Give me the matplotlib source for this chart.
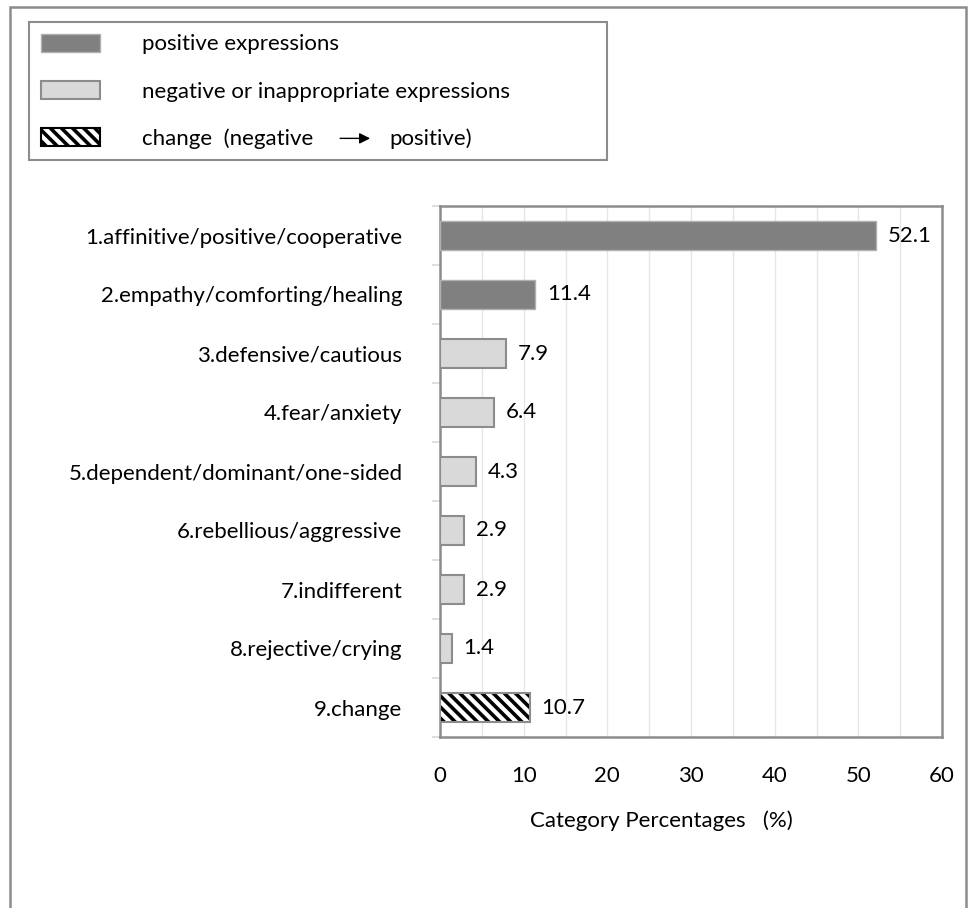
import numpy as np
import matplotlib
matplotlib.use('Agg')
import matplotlib.pyplot as plt
from matplotlib.patches import Rectangle, Patch, FancyArrowPatch

plt.rcParams['font.family'] = ['Lato', 'DejaVu Sans']
plt.rcParams['hatch.linewidth'] = 2.6

# data
categories = ['1.affinitive/positive/cooperative', '2.empathy/comforting/healing',
              '3.defensive/cautious', '4.fear/anxiety', '5.dependent/dominant/one-sided',
              '6.rebellious/aggressive', '7.indifferent', '8.rejective/crying', '9.change']
values = [52.1, 11.4, 7.9, 6.4, 4.3, 2.9, 2.9, 1.4, 10.7]
kinds = ['pos', 'pos', 'neg', 'neg', 'neg', 'neg', 'neg', 'neg', 'chg']
xticks = [0, 10, 20, 30, 40, 50, 60]

FS = 16
W, H = 968, 908

fig = plt.figure(figsize=(W / 100, H / 100), dpi=100)
ax = fig.add_axes([440 / W, 1 - 737 / H, 502 / W, 531 / H])

y = np.arange(len(categories))
for yi, v, k in zip(y, values, kinds):
    if k == 'pos':
        ax.barh(yi, v, height=0.5, color='#808080', edgecolor='#b0b0b0', linewidth=1, zorder=3)
    elif k == 'neg':
        ax.barh(yi, v, height=0.5, color='#d9d9d9', edgecolor='#8c8c8c', linewidth=1.5, zorder=3)
    else:
        ax.barh(yi, v, height=0.5, color='white', edgecolor='black', hatch='\\\\\\', linewidth=0, zorder=3)
        ax.barh(yi, v, height=0.5, color='none', edgecolor='#8c8c8c', linewidth=1.5, zorder=4)
    ax.text(v + 1.4, yi, f'{v:.1f}', va='center', ha='left', fontsize=FS)

ax.set_xlim(0, 60)
ax.set_ylim(len(categories) - 0.5, -0.5)
ax.set_xticks(xticks)
ax.set_xticks(np.arange(0, 61, 5), minor=True)
ax.grid(axis='x', which='both', color='#e6e6e6', linewidth=1, zorder=0)
ax.tick_params(axis='x', which='both', length=0, labelsize=FS, pad=21)
ax.set_yticks(y)
ax.set_yticklabels(categories, fontsize=FS)
ax.set_yticks(np.arange(-0.5, len(categories), 1), minor=True)
ax.tick_params(axis='y', which='major', length=0, pad=27)
ax.tick_params(axis='y', which='minor', length=6, color='#d9d9d9', width=1.2)
for s in ax.spines.values():
    s.set_color('#8c8c8c')
    s.set_linewidth(1.8)

fig.text(661 / W, 1 - 821 / H, 'Category Percentages   (%)', ha='center', va='center', fontsize=FS)

# outer frame (open at the bottom)
fig.add_artist(Rectangle((10 / W, -0.05), 956 / W, 1.05 - 7 / H, transform=fig.transFigure,
                         fill=False, edgecolor='#8c8c8c', linewidth=1.8))

handles = [Patch(facecolor='#808080', edgecolor='#b0b0b0', linewidth=1),
           Patch(facecolor='#d9d9d9', edgecolor='#8c8c8c', linewidth=1.5),
           Patch(facecolor='white', edgecolor='black', hatch='\\\\\\', linewidth=1.5)]
labels = ['positive expressions', 'negative or inappropriate expressions', 'change  (negative']
leg = fig.legend(handles, labels, loc='upper left',
                 bbox_to_anchor=(29 / W, 1 - 160 / H, 578 / W, 138 / H), mode='expand',
                 frameon=True, fancybox=False, edgecolor='#8c8c8c', framealpha=1, fontsize=FS,
                 handlelength=2.66, handleheight=0.9, handletextpad=1.9, labelspacing=1.18,
                 borderpad=0.52, borderaxespad=0)
leg.get_frame().set_linewidth(1.5)
leg.set_zorder(1)

# arrow and the rest of the third legend entry
fig.canvas.draw()
r = fig.canvas.get_renderer()
bb = leg.get_texts()[2].get_window_extent(r)
yc = (bb.y0 + bb.y1) / 2 / H
x_end = bb.x1 / W
arrow = FancyArrowPatch((x_end + 27 / W, yc), (x_end + 57 / W, yc), transform=fig.transFigure,
                        arrowstyle='-|>', color='black', lw=1, mutation_scale=16,
                        shrinkA=0, shrinkB=0, zorder=10)
fig.add_artist(arrow)
fig.text(x_end + 76 / W, yc, 'positive)', ha='left', va='center', fontsize=FS, zorder=10)

fig.savefig('out.png', dpi=100)
